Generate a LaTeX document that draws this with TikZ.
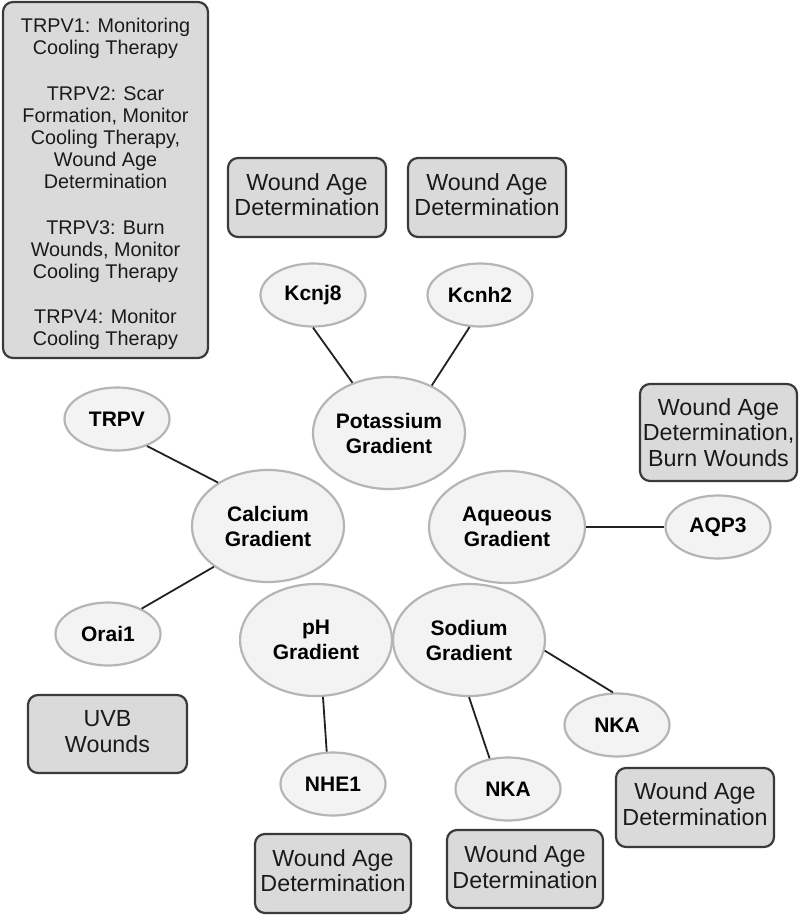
\documentclass[tikz,border=0pt]{standalone}
\usepackage{fontspec}
\setmainfont{Liberation Sans}
\usetikzlibrary{shapes.geometric}
\definecolor{boxfill}{HTML}{DADADA}
\definecolor{boxdraw}{HTML}{3A3A3A}
\definecolor{ellfill}{HTML}{F3F3F3}
\definecolor{elldraw}{HTML}{B5B5B5}
\definecolor{linec}{HTML}{222222}
\definecolor{txt}{HTML}{1A1A1A}
\begin{document}
\begin{tikzpicture}[x=1pt,y=-1pt,
 gbox/.style={draw=boxdraw, fill=boxfill, line width=2.2pt, rounded corners=10pt, inner sep=0pt},
 btxt/.style={align=center, text=txt, inner sep=0pt, font=\fontsize{23.3}{25.5}\selectfont},
 ttxt/.style={align=center, text=txt, inner sep=0pt, font=\fontsize{19.8}{22}\selectfont},
 gell/.style={ellipse, draw=elldraw, fill=ellfill, line width=2.2pt, inner sep=0pt, align=center, text=black, font=\fontsize{21}{25}\selectfont\bfseries},
 small/.style={gell, minimum width=105pt, minimum height=63pt},
 big/.style={gell, minimum width=152pt, minimum height=112pt},
 conn/.style={draw=linec, line width=1.8pt}]
\useasboundingbox[fill=white] (0,0) rectangle (800,915);

% boxes
\node[gbox, minimum width=205pt, minimum height=356pt,
 label={[ttxt, yshift=-4pt]center:{TRPV1: Monitoring\\Cooling Therapy\\[24pt]TRPV2: Scar\\Formation, Monitor\\Cooling Therapy,\\Wound Age\\Determination\\[24pt]TRPV3: Burn\\Wounds, Monitor\\Cooling Therapy\\[23pt]TRPV4: Monitor\\Cooling Therapy}}] (trpvbox) at (105.5,180) {};
\node[gbox, minimum width=158pt, minimum height=79pt,
 label={[btxt, yshift=3pt]center:{Wound Age\\Determination}}] (wa1) at (307,197.5) {};
\node[gbox, minimum width=158pt, minimum height=79pt,
 label={[btxt, yshift=3pt]center:{Wound Age\\Determination}}] (wa2) at (487,197.5) {};
\node[gbox, minimum width=157pt, minimum height=97pt,
 label={[btxt]center:{Wound Age\\Determination,\\Burn Wounds}}] (wa3) at (718.5,432.5) {};
\node[gbox, minimum width=159pt, minimum height=78pt,
 label={[btxt, yshift=2.5pt]center:{UVB\\Wounds}}] (uvb) at (107.5,734) {};
\node[gbox, minimum width=158pt, minimum height=79pt,
 label={[btxt, yshift=3.5pt]center:{Wound Age\\Determination}}] (wa4) at (695,807.5) {};
\node[gbox, minimum width=156pt, minimum height=79pt,
 label={[btxt, yshift=3pt]center:{Wound Age\\Determination}}] (wa5) at (333,873.5) {};
\node[gbox, minimum width=156pt, minimum height=78pt,
 label={[btxt, yshift=2pt]center:{Wound Age\\Determination}}] (wa6) at (525,869) {};

% ellipses
\node[small] (kcnj8) at (313,295) {Kcnj8};
\node[small] (kcnh2) at (480,295) {Kcnh2};
\node[big] (pot) at (389,433) {Potassium\\Gradient};
\node[small] (trpv) at (117,419) {TRPV};
\node[big] (cal) at (268,526) {Calcium\\Gradient};
\node[gell, minimum width=156pt, minimum height=112pt] (aq) at (507,527) {Aqueous\\Gradient};
\node[small] (aqp3) at (718,527) {AQP3};
\node[small] (orai) at (108,634) {Orai1};
\node[big] (ph) at (316,640) {pH\\Gradient};
\node[big] (sod) at (469,640) {Sodium\\Gradient};
\node[small] (nkar) at (617,725) {NKA};
\node[small] (nhe) at (333,784) {NHE1};
\node[small] (nkab) at (508,789) {NKA};

% connectors
\draw[conn] (kcnj8.-90) -- (pot.126);
\draw[conn] (kcnh2.-108) -- (pot.48);
\draw[conn] (trpv.-42) -- (cal.139);
\draw[conn] (cal.-143) -- (orai.37);
\draw[conn] (aq.east) -- (aqp3.west);
\draw[conn] (ph.-83) -- (nhe.101);
\draw[conn] (sod.-90) -- (nkab.121);
\draw[conn] (sod.-8) -- (nkar.97);
\end{tikzpicture}
\end{document}
